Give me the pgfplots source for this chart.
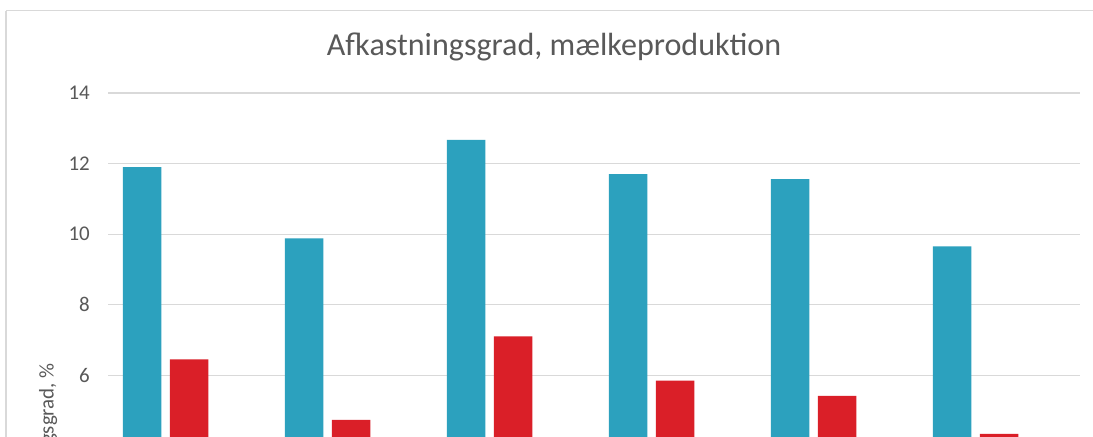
\documentclass[border=0pt]{standalone}
\usepackage{fontspec}
\setmainfont{Carlito}
\usepackage{pgfplots}
\pgfplotsset{compat=1.18}
\definecolor{barblue}{HTML}{2CA1BE}
\definecolor{barred}{HTML}{DA1F28}
\definecolor{gridgray}{HTML}{D9D9D9}
\definecolor{txtgray}{HTML}{595959}
\begin{document}
\begin{tikzpicture}
\fill[white] (0bp,0bp) rectangle (1093bp,-437bp);
\draw[gridgray, line width=1.2bp] (6bp,-10.5bp) -- (1100bp,-10.5bp);
\draw[gridgray, line width=1.2bp] (6bp,-10.5bp) -- (6bp,-440bp);
\node[anchor=base, inner sep=0pt, font=\fontsize{32.2}{38}\selectfont, text=txtgray] at (554bp,-55bp) {Afkastningsgrad, mælkeproduktion};
\node[rotate=90, anchor=east, inner sep=0pt, font=\fontsize{21}{25}\selectfont, text=txtgray] at (48bp,-363bp) {Afkastningsgrad, \%};
\begin{axis}[
  at={(108bp,-93bp)}, anchor=north west,
  scale only axis, width=972bp, height=494bp,
  xmin=0.5, xmax=6.5, ymin=0, ymax=14,
  axis line style={draw=none},
  major tick length=0pt,
  xtick=\empty,
  ytick={0,2,...,14},
  ymajorgrids,
  grid style={gridgray, line width=1.2bp},
  /pgf/number format/assume math mode=true,
  yticklabel style={font=\fontsize{21}{25}\selectfont, text=txtgray, inner sep=0pt, xshift=-18bp},
  clip=true,
]
\addplot[ybar, bar width=38.5bp, bar shift=-47bp, fill=barblue, draw=none] coordinates {
  (1,11.90) (2,9.88) (3,12.67) (4,11.70) (5,11.56) (6,9.65)
};
\addplot[ybar, bar width=38.5bp, bar shift=0bp, fill=barred, draw=none] coordinates {
  (1,6.45) (2,4.74) (3,7.10) (4,5.85) (5,5.42) (6,4.34)
};
\end{axis}
\pgfresetboundingbox
\path[use as bounding box] (0bp,0bp) rectangle (1093bp,-437bp);
\end{tikzpicture}
\end{document}
